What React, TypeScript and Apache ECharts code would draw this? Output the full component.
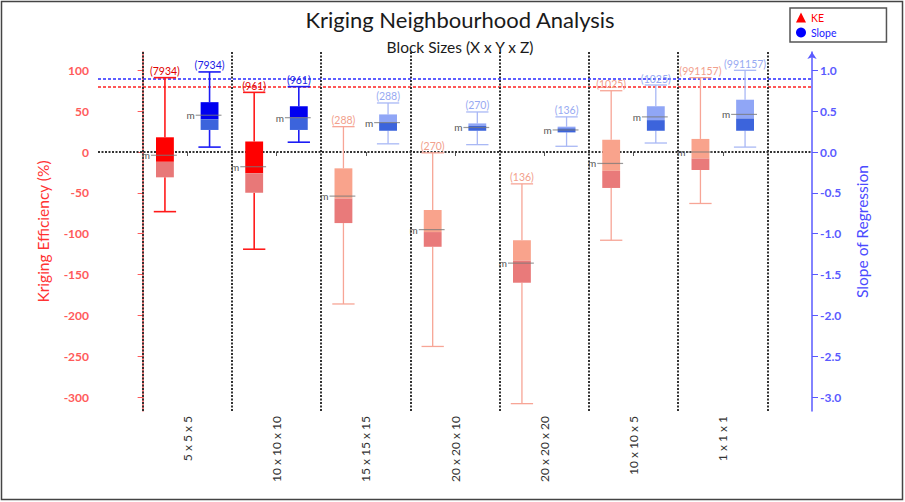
import React, { useEffect, useRef } from 'react';
import * as echarts from 'echarts';

const categories = ['5 x 5 x 5', '10 x 10 x 10', '15 x 15 x 15', '20 x 20 x 10', '20 x 20 x 20', '10 x 10 x 5', '1 x 1 x 1'];
const sampleCounts = ['7934', '961', '288', '270', '136', '1025', '991157'];
const highlighted = [true, true, false, false, false, false, false];

// Kriging efficiency (%)
const keMin = [-73, -119, -186, -238, -308, -108, -63];
const keQ1 = [-31, -50, -87, -116, -160, -44, -22];
const keMedian = [-12, -26, -57, -98, -133, -23, -8];
const keQ3 = [18, 13, -20, -71, -108, 15, 16];
const keMax = [91, 73, 31, -1, -39, 75, 91];
const keMean = [-4, -18, -54, -95, -136, -14, 0];

// Slope of regression
const slopeMin = [0.06, 0.12, 0.1, 0.09, 0.07, 0.11, 0.06];
const slopeQ1 = [0.27, 0.27, 0.26, 0.26, 0.24, 0.26, 0.26];
const slopeMedian = [0.4, 0.42, 0.36, 0.32, 0.29, 0.39, 0.41];
const slopeQ3 = [0.61, 0.56, 0.46, 0.35, 0.31, 0.56, 0.64];
const slopeMax = [0.98, 0.8, 0.6, 0.49, 0.43, 0.82, 1.0];
const slopeMean = [0.45, 0.42, 0.36, 0.3, 0.27, 0.43, 0.46];

const keTicks = [-300, -250, -200, -150, -100, -50, 0, 50, 100];
const slopeTicks = [-3, -2.5, -2, -1.5, -1, -0.5, 0, 0.5, 1];
const keTarget = 80;
const slopeTarget = 0.9;

const FONT = 'Lato';

const kePalette = {
  strong: { upper: '#ff0000', lower: '#e87878', whisker: '#ff1a1a', label: '#e00000', width: 1.6 },
  soft: { upper: '#f9a38c', lower: '#e97a7a', whisker: '#f7a596', label: '#f2a08c', width: 1.3 },
};
const slopePalette = {
  strong: { upper: '#0000f0', lower: '#3c64dc', whisker: '#1c1cf5', label: '#1a1ae6', width: 1.6 },
  soft: { upper: '#90a6f6', lower: '#3c64dc', whisker: '#a9b8f5', label: '#98aaf2', width: 1.3 },
};

function buildData(mins: number[], q1: number[], med: number[], q3: number[], maxs: number[], means: number[]) {
  return categories.map((_, i) => [i + 0.5, mins[i], q1[i], med[i], q3[i], maxs[i], means[i], i]);
}

function makeRender(palette: any, side: number) {
  return (params: any, api: any) => {
    const x = api.value(0);
    const idx = api.value(7);
    const band = api.size([1, 0])[0];
    const p = highlighted[idx] ? palette.strong : palette.soft;
    const cx = api.coord([x, 0])[0] + side * band * 0.25;
    const yMin = api.coord([x, api.value(1)])[1];
    const yQ1 = api.coord([x, api.value(2)])[1];
    const yMed = api.coord([x, api.value(3)])[1];
    const yQ3 = api.coord([x, api.value(4)])[1];
    const yMax = api.coord([x, api.value(5)])[1];
    const yMean = api.coord([x, api.value(6)])[1];
    const boxW = band * 0.2;
    const capW = band * 0.25;
    const left = cx - boxW / 2;
    const ls = { stroke: p.whisker, lineWidth: p.width };
    return {
      type: 'group',
      children: [
        { type: 'line', shape: { x1: cx, y1: yMax, x2: cx, y2: yQ3 }, style: ls },
        { type: 'line', shape: { x1: cx, y1: yQ1, x2: cx, y2: yMin }, style: ls },
        { type: 'line', shape: { x1: cx - capW / 2, y1: yMax, x2: cx + capW / 2, y2: yMax }, style: ls },
        { type: 'line', shape: { x1: cx - capW / 2, y1: yMin, x2: cx + capW / 2, y2: yMin }, style: ls },
        { type: 'rect', shape: { x: left, y: yQ3, width: boxW, height: yMed - yQ3 }, style: { fill: p.upper } },
        { type: 'rect', shape: { x: left, y: yMed, width: boxW, height: yQ1 - yMed }, style: { fill: p.lower } },
        { type: 'line', shape: { x1: left - 5, y1: yMean, x2: left + boxW + 3, y2: yMean }, style: { stroke: 'rgba(120,120,120,0.75)', lineWidth: 1.2 } },
        { type: 'text', x: left - 6, y: yMean, style: { text: 'm', fill: '#555', fontSize: 10, fontFamily: FONT, align: 'right', verticalAlign: 'middle' } },
        { type: 'text', x: cx, y: yMax - 1, style: { text: '(' + sampleCounts[idx] + ')', fill: p.label, fontSize: 10.5, fontFamily: FONT, align: 'center', verticalAlign: 'bottom' } },
      ],
    };
  };
}

export default function App() {
  const ref = useRef<HTMLDivElement>(null);
  useEffect(() => {
    if (!ref.current) return;
    const chart = echarts.init(ref.current, undefined, { renderer: 'svg' });
    const centers = categories.map((_, i) => i + 0.5);
    const separators = [0, 1, 2, 3, 4, 5, 6, 7];
    const option: any = {
      animation: false,
      backgroundColor: '#ffffff',
      textStyle: { fontFamily: FONT },
      title: {
        text: 'Kriging Neighbourhood Analysis',
        subtext: 'Block Sizes (X x Y x Z)',
        left: 455,
        textAlign: 'center',
        top: 3,
        itemGap: 9,
        textStyle: { fontSize: 22, fontWeight: 'normal', color: '#1a1a1a', fontFamily: FONT },
        subtextStyle: { fontSize: 15.5, color: '#1a1a1a', fontFamily: FONT },
      },
      legend: {
        orient: 'vertical',
        left: 790,
        top: 8,
        itemWidth: 10,
        itemHeight: 10,
        itemGap: 4,
        padding: [4, 50, 4, 6],
        borderColor: '#555',
        borderWidth: 1.5,
        selectedMode: false,
        data: [
          { name: 'KE', icon: 'triangle', itemStyle: { color: '#ff0000' }, textStyle: { color: '#ff0000', fontSize: 10.5 } },
          { name: 'Slope', icon: 'circle', itemStyle: { color: '#0000ff' }, textStyle: { color: '#2020ff', fontSize: 10.5 } },
        ],
      },
      graphic: [
        { type: 'rect', shape: { x: 1.5, y: 1.5, width: 901, height: 498 }, style: { fill: 'none', stroke: '#444', lineWidth: 1.5 }, z: 100 },
      ],
      grid: { left: 98, right: 93, top: 52, bottom: 91 },
      xAxis: {
        type: 'value',
        min: -0.5,
        max: 7.5,
        axisLine: { show: false },
        splitLine: { show: false },
        axisTick: { show: true, customValues: centers, length: 4, lineStyle: { color: '#555' } },
        axisLabel: {
          customValues: centers,
          rotate: 90,
          margin: 5,
          fontSize: 12,
          color: '#333',
          fontFamily: FONT,
          formatter: (v: number) => categories[Math.round(v - 0.5)] ?? '',
        },
      },
      yAxis: [
        {
          type: 'value',
          min: -317,
          max: 122.4,
          position: 'left',
          name: 'Kriging Efficiency (%)',
          nameLocation: 'middle',
          nameRotate: 90,
          nameGap: 47,
          nameTextStyle: { color: '#ff3333', fontSize: 15.5, fontFamily: FONT },
          axisLine: { show: true, lineStyle: { color: '#ff5a5a', width: 1.5 } },
          axisTick: { show: true, customValues: keTicks, length: 5, lineStyle: { color: '#ff5a5a' } },
          axisLabel: { customValues: keTicks, margin: 9, fontSize: 12, fontWeight: 'bold', color: '#ff5a5a', fontFamily: FONT, formatter: (v: number) => String(v) },
          splitLine: { show: false },
        },
        {
          type: 'value',
          min: -3.17,
          max: 1.224,
          position: 'right',
          name: 'Slope of Regression',
          nameLocation: 'middle',
          nameRotate: 90,
          nameGap: 42,
          nameTextStyle: { color: '#4a4aff', fontSize: 15.5, fontFamily: FONT },
          axisLine: { show: true, symbol: ['none', 'arrow'], symbolSize: [7, 7], lineStyle: { color: '#5a5aff', width: 1.5 } },
          axisTick: { show: true, customValues: slopeTicks, length: 6, lineStyle: { color: '#5a5aff' } },
          axisLabel: { customValues: slopeTicks, margin: 8, fontSize: 12, fontWeight: 'bold', color: '#5a5aff', fontFamily: FONT, formatter: (v: number) => v.toFixed(1) },
          splitLine: { show: false },
        },
      ],
      series: [
        {
          name: 'refs',
          type: 'line',
          xAxisIndex: 0,
          yAxisIndex: 0,
          data: [],
          z: 1,
          markLine: {
            silent: true,
            symbol: ['none', 'none'],
            label: { show: false },
            z: 1,
            data: [
              { yAxis: 0, lineStyle: { color: '#333', type: [2, 1.5], width: 2 } },
              { yAxis: keTarget, lineStyle: { color: '#ff2020', type: [3, 2], width: 1.5 } },
              ...separators.map((s) => ({ xAxis: s, lineStyle: { color: '#333', type: [2, 1.5], width: 2 } })),
            ],
          },
        },
        {
          name: 'slopeRef',
          type: 'line',
          xAxisIndex: 0,
          yAxisIndex: 1,
          data: [],
          z: 1,
          markLine: {
            silent: true,
            symbol: ['none', 'none'],
            label: { show: false },
            z: 1,
            data: [{ yAxis: slopeTarget, lineStyle: { color: '#2a2aff', type: [3, 2], width: 1.5 } }],
          },
        },
        {
          name: 'KE',
          type: 'custom',
          xAxisIndex: 0,
          yAxisIndex: 0,
          z: 5,
          itemStyle: { color: '#ff0000' },
          renderItem: makeRender(kePalette, -1),
          encode: { x: 0, y: [1, 5] },
          data: buildData(keMin, keQ1, keMedian, keQ3, keMax, keMean),
        },
        {
          name: 'Slope',
          type: 'custom',
          xAxisIndex: 0,
          yAxisIndex: 1,
          z: 5,
          itemStyle: { color: '#0000ff' },
          renderItem: makeRender(slopePalette, 1),
          encode: { x: 0, y: [1, 5] },
          data: buildData(slopeMin, slopeQ1, slopeMedian, slopeQ3, slopeMax, slopeMean),
        },
      ],
    };
    chart.setOption(option);
    return () => chart.dispose();
  }, []);
  return <div ref={ref} style={{ position: 'absolute', left: 0, top: 0, width: 905, height: 502 }} />;
}
